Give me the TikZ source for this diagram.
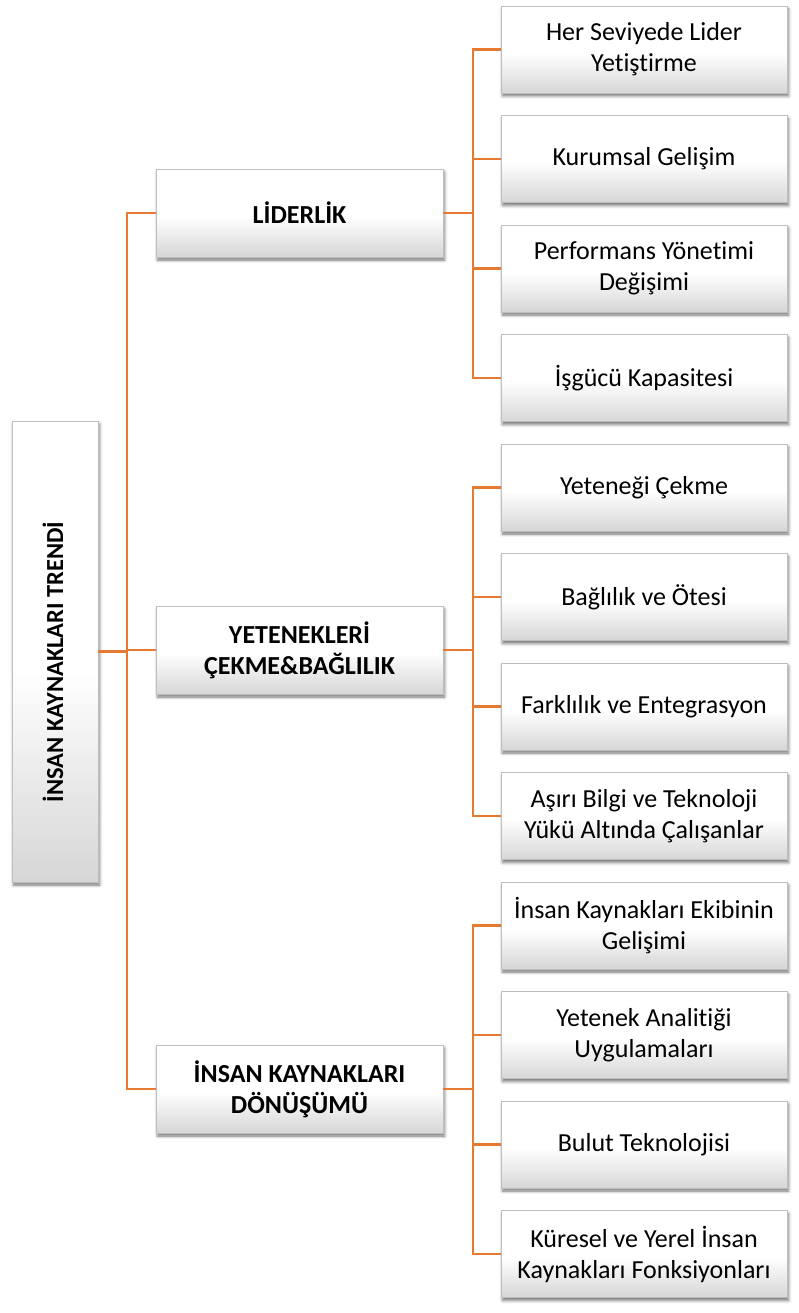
\documentclass[tikz,border=0pt]{standalone}
\usepackage{fontspec}
\setmainfont{Carlito}[Ligatures=NoCommon]
\usetikzlibrary{shadows.blur}
\definecolor{conn}{RGB}{230,122,48}
\definecolor{boxline}{RGB}{190,190,190}
\pgfdeclareverticalshading{boxshade}{100bp}{color(0bp)=(black!16); color(25bp)=(black!16); color(48bp)=(white); color(100bp)=(white)}
\tikzset{
  card/.style={draw=boxline, line width=0.6pt, shading=boxshade, inner sep=0pt, align=center,
    blur shadow={shadow xshift=1.5pt, shadow yshift=-3pt, shadow blur radius=3pt, shadow opacity=55}},
  leaf/.style={card, minimum width=286pt, minimum height=87pt, font=\fontsize{26}{31}\selectfont},
  mid/.style={card, minimum width=287pt, minimum height=88pt, font=\fontsize{26}{31}\selectfont\bfseries},
  wire/.style={draw=conn, line width=2.2pt}
}
\begin{document}
\begin{tikzpicture}[x=1pt,y=-1pt]
\useasboundingbox (0,0) rectangle (799,1313);
% root
\node[card, minimum width=86pt, minimum height=461pt] (root) at (55,651.5) {};
\node[rotate=90, font=\fontsize{24.5}{28}\selectfont\bfseries, inner sep=0pt] (roottext) at (53,662) {İNSAN KAYNAKLARI TRENDİ};
% level 1
\node[mid] (la) at (299.5,213) {LİDERLİK};
\node[mid] (lb) at (299.5,650) {YETENEKLERİ\\ÇEKME\&BAĞLILIK};
\node[mid] (lc) at (299.5,1089) {İNSAN KAYNAKLARI\\DÖNÜŞÜMÜ};
% leaves
\node[leaf] (c1) at (644,49.5) {Her Seviyede Lider\\Yetiştirme};
\node[leaf] (c2) at (644,159) {Kurumsal Gelişim};
\node[leaf] (c3) at (644,268.5) {Performans Yönetimi\\Değişimi};
\node[leaf] (c4) at (644,378) {İşgücü Kapasitesi};
\node[leaf] (c5) at (644,487.5) {Yeteneği Çekme};
\node[leaf] (c6) at (644,597) {Bağlılık ve Ötesi};
\node[leaf] (c7) at (644,706.5) {Farklılık ve Entegrasyon};
\node[leaf] (c8) at (644,816) {Aşırı Bilgi ve Teknoloji\\Yükü Altında Çalışanlar};
\node[leaf] (c9) at (644,925.5) {İnsan Kaynakları Ekibinin\\Gelişimi};
\node[leaf] (c10) at (644,1035) {Yetenek Analitiği\\Uygulamaları};
\node[leaf] (c11) at (644,1144.5) {Bulut Teknolojisi};
\node[leaf] (c12) at (644,1254) {Küresel ve Yerel İnsan\\Kaynakları Fonksiyonları};
% junctions
\coordinate (t) at (127,651.5);
\coordinate (ja) at (473,213);
\coordinate (jb) at (473,650);
\coordinate (jc) at (473,1089);
% connectors
\draw[wire] (root.east) -- (t) |- (la.west);
\draw[wire] (root.east) -- (t) |- (lb.west);
\draw[wire] (root.east) -- (t) |- (lc.west);
\foreach \c in {c1,c2,c3,c4} \draw[wire] (la.east) -- (ja) |- (\c.west);
\foreach \c in {c5,c6,c7,c8} \draw[wire] (lb.east) -- (jb) |- (\c.west);
\foreach \c in {c9,c10,c11,c12} \draw[wire] (lc.east) -- (jc) |- (\c.west);
\end{tikzpicture}
\end{document}
